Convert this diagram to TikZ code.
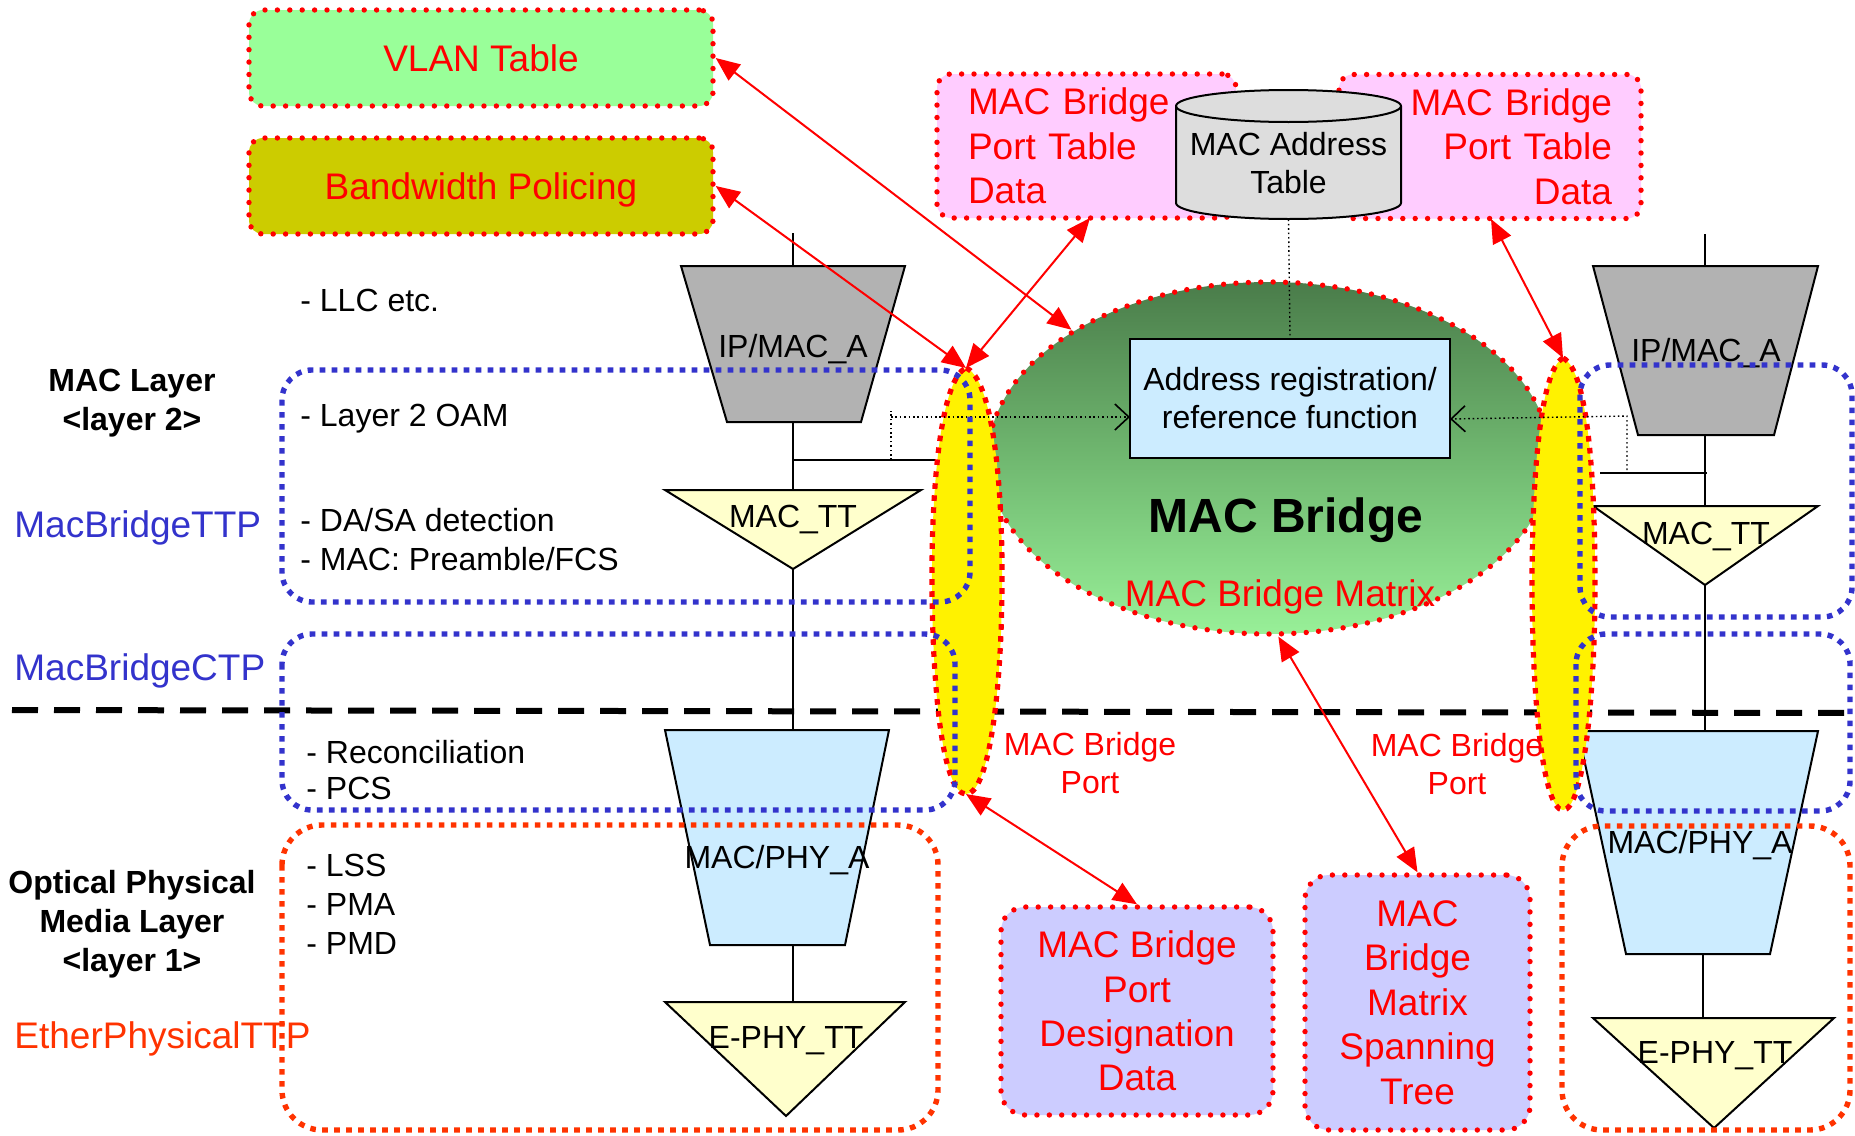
\documentclass[tikz,border=0pt]{standalone}
\usepackage{fontspec}
\setmainfont{Liberation Sans}
\usetikzlibrary{shapes.geometric,arrows.meta}
\definecolor{bluedot}{RGB}{51,51,204}
\definecolor{orangedot}{RGB}{255,51,0}
\definecolor{vlanfill}{RGB}{153,255,153}
\definecolor{bwfill}{RGB}{204,204,0}
\definecolor{pinkfill}{RGB}{255,204,255}
\definecolor{purplefill}{RGB}{204,204,255}
\definecolor{grayfill}{RGB}{178,178,178}
\definecolor{lbluefill}{RGB}{204,236,255}
\definecolor{ltyellow}{RGB}{255,255,204}
\definecolor{cylfill}{RGB}{221,221,221}
\definecolor{gtop}{RGB}{74,124,74}
\definecolor{gmid}{RGB}{112,184,112}
\definecolor{gbot}{RGB}{152,240,152}
\newcommand\fbody{\fontsize{16}{19.5}\selectfont}
\newcommand\fbig{\fontsize{18.5}{22.2}\selectfont}
\newcommand\ftitle{\fontsize{24}{28}\selectfont\bfseries}
\begin{document}
\begin{tikzpicture}[x=0.5pt,y=-0.5pt,
  every node/.style={inner sep=0pt, font=\fbody},
  oneline/.style={text height=#1, text depth=0pt},
  oneline/.default=11.5pt,
  reddots/.style={draw=red, line width=2.7pt, line cap=round, dash pattern=on 0pt off 6.2pt},
  reddash/.style={draw=red, line width=2.6pt, dash pattern=on 2.8pt off 3.2pt},
  bluedash/.style={draw=bluedot, line width=2.7pt, dash pattern=on 2.8pt off 3.2pt, rounded corners=15pt},
  orangedash/.style={draw=orangedot, line width=2.7pt, dash pattern=on 2.8pt off 3.2pt, rounded corners=20pt},
  blk/.style={draw=black, line width=1pt},
  dotblk/.style={draw=black, line width=0.7pt, dash pattern=on 0.8pt off 1.4pt},
  redarrow/.style={draw=red, line width=1pt, {Triangle[length=12pt,width=10pt]}-{Triangle[length=12pt,width=10pt]}},
  openarrow/.style={-{Straight Barb[length=7pt,width=13pt,line width=0.8pt]}},
  redtxt/.style={text=red, font=\fbig},
  tableBox/.style={reddots, rounded corners=7pt, inner ysep=0pt, text=red, font=\fbig}
]
\fill[white] (0,0) rectangle (1855,1135);
\useasboundingbox (0,0) rectangle (1855,1135);

% ---------- top tables ----------
\node[tableBox, oneline=13.3pt, fill=vlanfill, minimum width=232pt, minimum height=48pt] (vlan) at (481,58) {VLAN Table};
\node[tableBox, oneline=13.3pt, fill=bwfill, minimum width=232pt, minimum height=48pt] (bw) at (481,186) {Bandwidth Policing};
\node[tableBox, fill=pinkfill, minimum height=72pt, inner xsep=15.5pt, text width=118.5pt, align=left] (pinkL) at (1086.5,146) {MAC Bridge\\Port Table\\Data};
\node[tableBox, fill=pinkfill, minimum height=72pt, inner xsep=14.5pt, text width=122pt, align=right] (pinkR) at (1490,146.5) {MAC Bridge\\Port Table\\Data};

% cylinder
\path[fill=cylfill, draw=black, line width=1pt] (1176,106) -- (1176,203)
  arc[start angle=180, end angle=360, x radius=56.25pt, y radius=8pt] -- (1401,106)
  arc[start angle=0, end angle=180, x radius=56.25pt, y radius=8pt] -- cycle;
\draw[line width=1pt] (1176,106) arc[start angle=180, end angle=360, x radius=56.25pt, y radius=8pt];
\node[minimum width=112.5pt, minimum height=64.5pt] (cyl) at (1288.5,154.5) {};
\node[align=center, font=\fontsize{16}{19}\selectfont] (cyltxt) at (1288.5,163) {MAC Address\\Table};

% ---------- bottom tables ----------
\node[tableBox, fill=purplefill, rounded corners=12pt, minimum width=136pt, minimum height=104pt, align=center] (desig) at (1137,1011) {MAC Bridge\\Port\\Designation\\Data};
\node[tableBox, fill=purplefill, rounded corners=12pt, minimum width=112.5pt, minimum height=127.5pt, align=center] (span) at (1417.5,1002.5) {MAC\\Bridge\\Matrix\\Spanning\\Tree};

% ---------- MAC bridge ----------
\node[ellipse, reddots, top color=gtop, bottom color=gbot, middle color=gmid, minimum width=281pt, minimum height=176pt] (bridge) at (1269,458) {};
\node[draw, line width=1pt, fill=lbluefill, minimum width=160pt, minimum height=59.5pt, align=center, font=\fontsize{16}{19}\selectfont] (addr) at (1290,398.5) {Address registration/\\reference function};
\draw[dotblk] (cyl.south) -- (addr.north);
\node[oneline=17.2pt, font=\ftitle] (btitle) at (1286,515) {MAC Bridge};
\node[oneline=13.3pt, redtxt] (bmatrix) at (1280,593) {MAC Bridge Matrix};

% ---------- left column ----------
\coordinate (Lstub) at (793,233);
\coordinate (LipT) at (793,266);
\coordinate (LipB) at (793,422);
\coordinate (LbrA) at (793,460);
\coordinate (LbrB) at (936,460);
\coordinate (LttT) at (793,490);
\coordinate (LttB) at (793,569);
\coordinate (LphT) at (793,730);
\coordinate (LphB) at (793,945);
\coordinate (LetT) at (793,1002);
\draw[blk] (Lstub) -- (LipT);
\draw[blk] (LipB) -- (LttT);
\draw[blk] (LbrA) -- (LbrB);
\draw[blk] (LttB) -- (LphT);
\draw[blk] (LphB) -- (LetT);
\draw[blk, fill=grayfill] (681,266) -- (905,266) -- (861,422) -- (727,422) -- cycle;
\draw[blk, fill=ltyellow] (665,490) -- (921,490) -- (793,569) -- cycle;
\draw[blk, fill=lbluefill] (665,730) -- (889,730) -- (845,945) -- (710,945) -- cycle;
\draw[blk, fill=ltyellow] (665,1002) -- (905,1002) -- (786,1116) -- cycle;
\node[oneline] (ipL) at (793,346) {IP/MAC\_A};
\node[oneline] (ttL) at (793,516) {MAC\_TT};
\node[oneline] (phL) at (777,857) {MAC/PHY\_A};
\node[oneline] (etL) at (786,1037) {E-PHY\_TT};

% ---------- right column ----------
\coordinate (Rstub) at (1705,234);
\coordinate (RipT) at (1705,266);
\coordinate (RipB) at (1705,435);
\coordinate (RbrA) at (1600,473);
\coordinate (RbrB) at (1707,473);
\coordinate (RttT) at (1705,506);
\coordinate (RttB) at (1705,585);
\coordinate (RphT) at (1705,731);
\coordinate (RphB) at (1703,954);
\coordinate (RetT) at (1703,1018);
\draw[blk] (Rstub) -- (RipT);
\draw[blk] (RipB) -- (RttT);
\draw[blk] (RbrA) -- (RbrB);
\draw[blk] (RttB) -- (RphT);
\draw[blk] (RphB) -- (RetT);
\draw[blk, fill=grayfill] (1593,266) -- (1818,266) -- (1774,435) -- (1638,435) -- cycle;
\draw[blk, fill=ltyellow] (1593,506) -- (1818,506) -- (1705,585) -- cycle;
\draw[blk, fill=lbluefill] (1578,731) -- (1818,731) -- (1770,954) -- (1626,954) -- cycle;
\draw[blk, fill=ltyellow] (1593,1018) -- (1834,1018) -- (1714,1128) -- cycle;
\node[oneline] (ipR) at (1706,350) {IP/MAC\_A};
\node[oneline] (ttR) at (1706,533) {MAC\_TT};
\node[oneline] (phR) at (1700,842) {MAC/PHY\_A};
\node[oneline] (etR) at (1715,1052) {E-PHY\_TT};

% ---------- layer separator ----------
\coordinate (dashL) at (12,710);
\coordinate (dashR) at (1855,713);
\draw[line width=3pt, dash pattern=on 13pt off 8pt] (dashL) -- (dashR);

% ---------- bridge ports ----------
\coordinate (ylTop) at (966,368);
\coordinate (ylBot) at (966,794);
\coordinate (yrTop) at (1563,358);
\coordinate (yrBot) at (1563,810);
\path[fill=yellow, reddash] (ylTop) .. controls (992,378) and (1003,480) .. (1002,590)
  .. controls (1001,700) and (988,794) .. (ylBot)
  .. controls (944,794) and (933,700) .. (932,590)
  .. controls (931,480) and (942,378) .. (ylTop) -- cycle;
\path[fill=yellow, reddash] (yrTop) .. controls (1588,370) and (1595,480) .. (1595,584)
  .. controls (1595,700) and (1583,810) .. (yrBot)
  .. controls (1543,810) and (1532,700) .. (1532,584)
  .. controls (1532,480) and (1540,370) .. (yrTop) -- cycle;

% ---------- dotted references ----------
\coordinate (LdA) at (891,460);
\coordinate (LdB) at (891,411);
\coordinate (LdC) at (891,417);
\coordinate (LdD) at (1130,417);
\coordinate (RdA) at (1627,470);
\coordinate (RdB) at (1627,416);
\coordinate (RdC) at (1450,419);
\draw[dotblk] (LdA) -- (LdB);
\draw[dotblk, openarrow] (LdC) -- (LdD);
\draw[dotblk, openarrow] (RdA) -- (RdB) -- (RdC);

% ---------- layer boxes ----------
\draw[bluedash] (282,370) rectangle (970,602);
\draw[bluedash] (282,634) rectangle (955,810);
\draw[orangedash] (282,825) rectangle (938,1130);
\draw[bluedash] (1580,365) rectangle (1852,617);
\draw[bluedash] (1576,634) rectangle (1850,811);
\draw[orangedash] (1562,826) rectangle (1850,1130);

% ---------- left texts ----------
\node[anchor=west, oneline] (llc) at (300,300) {- LLC etc.};
\node[align=center, font=\fontsize{16}{19.5}\selectfont\bfseries] (maclayer) at (132,403) {MAC Layer\\<layer 2>};
\node[anchor=west, oneline=13.3pt, text=bluedot, font=\fbig] (ttp) at (14,524) {MacBridgeTTP};
\node[anchor=west, oneline] (oam) at (300,415) {- Layer 2 OAM};
\node[anchor=west, align=left] (dasa) at (300,540) {- DA/SA detection\\- MAC: Preamble/FCS};
\node[anchor=west, oneline=13.3pt, text=bluedot, font=\fbig] (ctp) at (14,667) {MacBridgeCTP};
\node[anchor=west, align=left, font=\fontsize{16}{18}\selectfont] (recon) at (306,770) {- Reconciliation\\- PCS};
\node[align=center, font=\fontsize{16}{19.5}\selectfont\bfseries] (optical) at (132,924) {Optical Physical\\Media Layer\\<layer 1>};
\node[anchor=west, align=left] (lss) at (306,904) {- LSS\\- PMA\\- PMD};
\node[anchor=west, oneline=13.3pt, text=orangedot, font=\fbig] (ether) at (14,1035) {EtherPhysicalTTP};

% ---------- port labels ----------
\node[align=center, text=red, font=\fontsize{16}{19}\selectfont] (portL) at (1090,763) {MAC Bridge\\Port};
\node[align=center, text=red, font=\fontsize{16}{19}\selectfont] (portR) at (1457,764) {MAC Bridge\\Port};

% ---------- red relations ----------
\coordinate (pinkLarr) at (1090,218);
\coordinate (pinkRarr) at (1491,219);
\draw[redarrow] (vlan.east) -- (bridge.147);
\draw[redarrow] (bw.east) -- (ylTop);
\draw[redarrow] (pinkLarr) -- (ylTop);
\draw[redarrow] (pinkRarr) -- (yrTop);
\draw[redarrow] (bridge.-87) -- (span.north);
\draw[redarrow] (ylBot) -- (desig.north);
\end{tikzpicture}
\end{document}
